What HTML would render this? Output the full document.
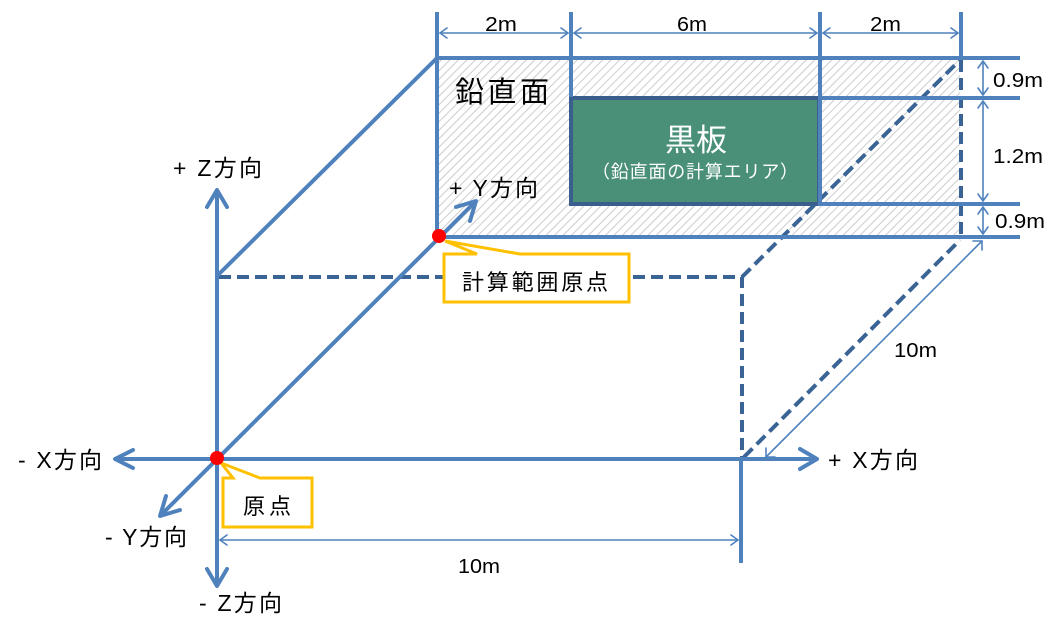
<!DOCTYPE html>
<html><head><meta charset="utf-8">
<style>
html,body{margin:0;padding:0;background:#fff;}
svg{display:block;}
text{font-family:"Liberation Sans","Noto Sans CJK JP",sans-serif;fill:#000;}
</style></head>
<body>
<svg width="1062" height="638" viewBox="0 0 1062 638" xmlns="http://www.w3.org/2000/svg">
<defs>
<pattern id="hatch" width="6" height="6" patternUnits="userSpaceOnUse" patternTransform="rotate(45)">
<line x1="0" y1="0" x2="0" y2="6" stroke="#cccccc" stroke-width="2"/>
</pattern>
</defs>

<!-- hatched vertical plane -->
<rect x="437" y="58" width="523" height="179" fill="url(#hatch)"/>

<!-- blackboard -->
<rect x="571" y="98" width="248" height="106" fill="#4a9079" stroke="#3a5f8f" stroke-width="4"/>
<text x="696" y="151" font-size="31" text-anchor="middle" style="fill:#fff">黒板</text>
<text x="592" y="178" font-size="18" textLength="206" lengthAdjust="spacing" style="fill:#fff">（鉛直面の計算エリア）</text>

<!-- dashed lines -->
<g stroke="#3b6496" stroke-width="4" fill="none" stroke-dasharray="12 6">
<polyline points="219,277 742,277 742,457"/>
<line x1="742" y1="277" x2="960" y2="60"/>
<line x1="744" y1="457" x2="960" y2="240"/>
<line x1="961" y1="60" x2="961" y2="236"/>
</g>

<!-- main blue lines -->
<g stroke="#4f81bd" stroke-width="4" fill="none" stroke-linecap="butt">
<line x1="437" y1="12" x2="437" y2="239"/>
<line x1="571" y1="12" x2="571" y2="97"/>
<line x1="820" y1="12" x2="820" y2="206"/>
<line x1="961" y1="12" x2="961" y2="60"/>
<line x1="437" y1="58" x2="1020" y2="58"/>
<line x1="437" y1="237" x2="1020" y2="237"/>
<line x1="821" y1="98" x2="1020" y2="98"/>
<line x1="821" y1="204" x2="1020" y2="204"/>
<line x1="217" y1="276" x2="438" y2="57"/>
<line x1="217" y1="190" x2="217" y2="585"/>
<polyline points="207,207 217,190 227,207" stroke-linejoin="round" stroke-linecap="round"/>
<polyline points="207,569 217,586 227,569" stroke-linejoin="round" stroke-linecap="round"/>
<line x1="116" y1="459" x2="816" y2="459"/>
<polyline points="133,450 115,459 133,468" stroke-linejoin="round" stroke-linecap="round"/>
<polyline points="800,449 817,459 800,469" stroke-linejoin="round" stroke-linecap="round"/>
<line x1="160" y1="516" x2="476" y2="201"/>
<polyline points="180,510 160,516 166,496" stroke-linejoin="round" stroke-linecap="round"/>
<polyline points="456,207 476,201 470,221" stroke-linejoin="round" stroke-linecap="round"/>
<line x1="741" y1="459" x2="741" y2="563"/>
</g>

<!-- thin dimension lines -->
<g stroke="#4f81bd" stroke-width="1.6" fill="none" stroke-linejoin="round" stroke-linecap="round">
<line x1="440" y1="33" x2="568" y2="33"/>
<polyline points="447,28 440,33 447,38"/><polyline points="561,28 568,33 561,38"/>
<line x1="574" y1="33" x2="817" y2="33"/>
<polyline points="581,28 574,33 581,38"/><polyline points="810,28 817,33 810,38"/>
<line x1="823" y1="33" x2="958" y2="33"/>
<polyline points="830,28 823,33 830,38"/><polyline points="951,28 958,33 951,38"/>

<line x1="983" y1="61" x2="983" y2="95"/>
<polyline points="978,68 983,61 988,68"/><polyline points="978,88 983,95 988,88"/>
<line x1="983" y1="101" x2="983" y2="201"/>
<polyline points="978,108 983,101 988,108"/><polyline points="978,194 983,201 988,194"/>
<line x1="983" y1="207" x2="983" y2="234"/>
<polyline points="978,214 983,207 988,214"/><polyline points="978,227 983,234 988,227"/>

<line x1="220" y1="540" x2="738" y2="540"/>
<polyline points="227,535 220,540 227,545"/><polyline points="731,535 738,540 731,545"/>

<line x1="766" y1="457" x2="982" y2="241"/>
<polyline points="766,448 766,457 775,457"/><polyline points="973,241 982,241 982,250"/>
</g>

<!-- callouts -->
<path d="M444,254 L477,254 L445,241 L520,254 L629,254 L629,302 L444,302 Z" fill="#fff" stroke="#ffc000" stroke-width="3" stroke-linejoin="miter"/>
<text x="462" y="290" font-size="22" textLength="146" lengthAdjust="spacing">計算範囲原点</text>
<path d="M223,478 L233,478 L221,463 L260,478 L312,478 L312,527 L223,527 Z" fill="#fff" stroke="#ffc000" stroke-width="3" stroke-linejoin="miter"/>
<text x="243" y="514" font-size="22" textLength="48" lengthAdjust="spacing">原点</text>

<!-- red dots -->
<circle cx="439" cy="236" r="7" fill="#ff0000"/>
<circle cx="217" cy="458" r="7" fill="#ff0000"/>

<!-- labels -->
<text x="455" y="102" font-size="29" textLength="94" lengthAdjust="spacing">鉛直面</text>
<text x="449" y="196" font-size="23" textLength="89" lengthAdjust="spacing">+ Y方向</text>
<text x="173" y="176" font-size="23" textLength="89" lengthAdjust="spacing">+ Z方向</text>
<text x="18" y="468" font-size="23" textLength="84" lengthAdjust="spacing">- X方向</text>
<text x="828" y="468" font-size="23" textLength="90" lengthAdjust="spacing">+ X方向</text>
<text x="105" y="545" font-size="23" textLength="82" lengthAdjust="spacing">- Y方向</text>
<text x="199" y="611" font-size="23" textLength="83" lengthAdjust="spacing">- Z方向</text>

<text x="485" y="31" font-size="20" textLength="32" lengthAdjust="spacingAndGlyphs">2m</text>
<text x="677" y="31" font-size="20" textLength="30" lengthAdjust="spacingAndGlyphs">6m</text>
<text x="870" y="31" font-size="20" textLength="31" lengthAdjust="spacingAndGlyphs">2m</text>
<text x="993" y="87" font-size="20" textLength="50" lengthAdjust="spacingAndGlyphs">0.9m</text>
<text x="993" y="163" font-size="20" textLength="50" lengthAdjust="spacingAndGlyphs">1.2m</text>
<text x="995" y="228" font-size="20" textLength="50" lengthAdjust="spacingAndGlyphs">0.9m</text>
<text x="894" y="357" font-size="20" textLength="43" lengthAdjust="spacingAndGlyphs">10m</text>
<text x="458" y="573" font-size="20" textLength="42" lengthAdjust="spacingAndGlyphs">10m</text>
</svg>
</body></html>
